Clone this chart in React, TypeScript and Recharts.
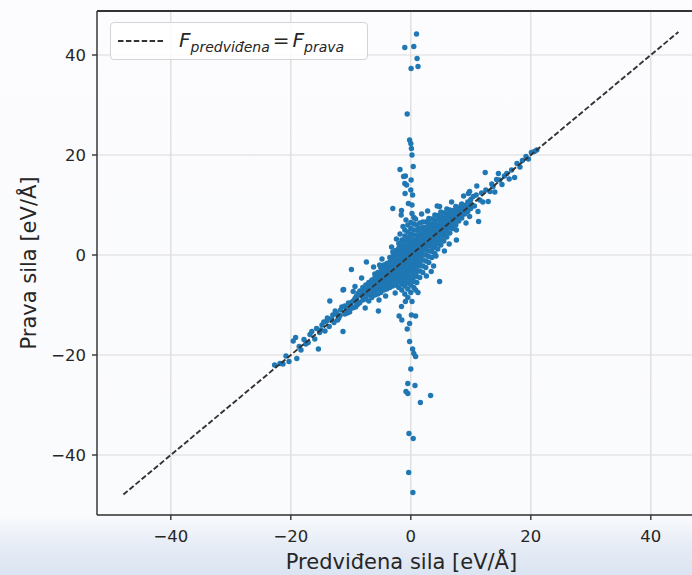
import React from "react";
import {
  ScatterChart,
  Scatter,
  XAxis,
  YAxis,
  CartesianGrid,
  ReferenceLine,
} from "recharts";

// dense core near the origin, [predicted, true]
const corePoints: [number, number][] = [
  [-9, -10], [-9, -9], [-9, -8.5],
  [-8.5, -9.5], [-8.5, -8], [-8.5, -7.2],
  [-8, -9], [-8, -8.3], [-8, -7.5], [-8, -6.5],
  [-7.5, -8.8], [-7.5, -7.8], [-7.5, -7], [-7.5, -6],
  [-7, -9.2], [-7, -8], [-7, -7.2], [-7, -6.4], [-7, -5.5],
  [-6.5, -8.5], [-6.5, -7.6], [-6.5, -6.8], [-6.5, -6], [-6.5, -5],
  [-6, -8], [-6, -7.1], [-6, -6.3], [-6, -5.5], [-6, -4.6], [-6, -3.8],
  [-5.5, -7.8], [-5.5, -6.8], [-5.5, -6], [-5.5, -5.2], [-5.5, -4.4], [-5.5, -3.5],
  [-5, -7.5], [-5, -6.6], [-5, -5.7], [-5, -5], [-5, -4.2], [-5, -3.3], [-5, -2.5],
  [-4.5, -7], [-4.5, -6.1], [-4.5, -5.3], [-4.5, -4.5], [-4.5, -3.7], [-4.5, -2.9], [-4.5, -2],
  [-4, -6.8], [-4, -5.9], [-4, -5], [-4, -4.2], [-4, -3.4], [-4, -2.6], [-4, -1.7],
  [-3.5, -6.5], [-3.5, -5.6], [-3.5, -4.7], [-3.5, -3.9], [-3.5, -3.1], [-3.5, -2.3], [-3.5, -1.4], [-3.5, -0.5],
  [-3, -6.2], [-3, -5.2], [-3, -4.4], [-3, -3.6], [-3, -2.8], [-3, -2], [-3, -1.2], [-3, -0.3], [-3, 0.6],
  [-2.5, -6], [-2.5, -5], [-2.5, -4.1], [-2.5, -3.3], [-2.5, -2.5], [-2.5, -1.7], [-2.5, -0.9], [-2.5, 0], [-2.5, 0.9],
  [-2, -6.5], [-2, -5.4], [-2, -4.5], [-2, -3.6], [-2, -2.8], [-2, -2], [-2, -1.2], [-2, -0.4], [-2, 0.5], [-2, 1.4], [-2, 2.3],
  [-1.5, -7], [-1.5, -5.8], [-1.5, -4.9], [-1.5, -4], [-1.5, -3.1], [-1.5, -2.3], [-1.5, -1.5], [-1.5, -0.7], [-1.5, 0.2], [-1.5, 1.1], [-1.5, 2], [-1.5, 3],
  [-1, -7.8], [-1, -6.2], [-1, -5.2], [-1, -4.3], [-1, -3.4], [-1, -2.5], [-1, -1.7], [-1, -0.9], [-1, 0], [-1, 0.9], [-1, 1.8], [-1, 2.8], [-1, 3.8], [-1, 5],
  [-0.5, -8.5], [-0.5, -6.8], [-0.5, -5.6], [-0.5, -4.6], [-0.5, -3.7], [-0.5, -2.8], [-0.5, -2], [-0.5, -1.1], [-0.5, -0.3], [-0.5, 0.6], [-0.5, 1.5], [-0.5, 2.5], [-0.5, 3.5], [-0.5, 4.6], [-0.5, 6],
  [0, -7.5], [0, -6], [0, -5], [0, -4], [0, -3.1], [0, -2.2], [0, -1.3], [0, -0.4], [0, 0.5], [0, 1.4], [0, 2.3], [0, 3.2], [0, 4.2], [0, 5.3], [0, 6.5],
  [0.5, -6.5], [0.5, -5.3], [0.5, -4.3], [0.5, -3.3], [0.5, -2.4], [0.5, -1.5], [0.5, -0.6], [0.5, 0.3], [0.5, 1.2], [0.5, 2.1], [0.5, 3], [0.5, 4], [0.5, 5], [0.5, 6.2], [0.5, 7.5],
  [1, -5.5], [1, -4.3], [1, -3.3], [1, -2.3], [1, -1.4], [1, -0.5], [1, 0.4], [1, 1.3], [1, 2.2], [1, 3.1], [1, 4], [1, 5], [1, 6],
  [1.5, -4.5], [1.5, -3.2], [1.5, -2.1], [1.5, -1.1], [1.5, -0.2], [1.5, 0.7], [1.5, 1.6], [1.5, 2.5], [1.5, 3.4], [1.5, 4.3], [1.5, 5.3], [1.5, 6.4],
  [2, -3.5], [2, -2.2], [2, -1], [2, 0], [2, 0.9], [2, 1.8], [2, 2.7], [2, 3.6], [2, 4.5], [2, 5.5], [2, 6.6],
  [2.5, -2.5], [2.5, -1.2], [2.5, 0], [2.5, 1], [2.5, 1.9], [2.5, 2.8], [2.5, 3.7], [2.5, 4.6], [2.5, 5.5], [2.5, 6.6],
  [3, -1.5], [3, -0.3], [3, 0.8], [3, 1.8], [3, 2.7], [3, 3.6], [3, 4.5], [3, 5.4], [3, 6.3], [3, 7.3],
  [3.5, -0.5], [3.5, 0.7], [3.5, 1.7], [3.5, 2.6], [3.5, 3.5], [3.5, 4.4], [3.5, 5.3], [3.5, 6.2], [3.5, 7.2],
  [4, 0.3], [4, 1.5], [4, 2.5], [4, 3.4], [4, 4.3], [4, 5.2], [4, 6.1], [4, 7], [4, 8],
  [4.5, 1.2], [4.5, 2.3], [4.5, 3.3], [4.5, 4.2], [4.5, 5.1], [4.5, 6], [4.5, 7], [4.5, 7.9],
  [5, 2], [5, 3], [5, 4], [5, 4.9], [5, 5.8], [5, 6.7], [5, 7.6], [5, 8.6],
  [5.5, 2.8], [5.5, 3.8], [5.5, 4.7], [5.5, 5.6], [5.5, 6.5], [5.5, 7.4], [5.5, 8.4],
  [6, 3.6], [6, 4.6], [6, 5.5], [6, 6.4], [6, 7.3], [6, 8.2], [6, 9.2],
  [6.5, 4.4], [6.5, 5.4], [6.5, 6.3], [6.5, 7.2], [6.5, 8.1], [6.5, 9],
  [7, 5.3], [7, 6.3], [7, 7.1], [7, 8], [7, 8.9],
  [7.5, 6], [7.5, 7], [7.5, 7.8], [7.5, 8.7], [7.5, 9.7],
  [8, 6.8], [8, 7.7], [8, 8.5], [8, 9.4],
  [8.5, 7.4], [8.5, 8.3], [8.5, 9.2], [8.5, 10.2],
  [9, 8.2], [9, 9], [9, 9.9],
  [9.5, 8.7], [9.5, 9.6], [9.5, 10.6],
  [10, 9.3], [10, 10.2], [10, 11.1],
];

// loose points around the edge of the core
const coreEdge: [number, number][] = [
  [-6.2, -2.4], [-4.8, -0.8], [-3.2, 1.6], [-2.4, 3.2], [2.6, -4.2],
  [3.8, -2.2], [5.6, 0.8], [6.4, 2.2], [-8.2, -4.6], [8.8, 11.8],
  [-1.8, 4.2], [1.8, 8.2], [2.8, 8.8], [-7.6, -10.6], [-4.2, -8.2],
  [-2.6, -7.6], [6.8, 10.6], [9.2, 6.4],
];

// sparser tail along the diagonal, lower left
const lowerBand: [number, number][] = [
  [-22.7, -22], [-21.8, -21.7], [-21.3, -21.8], [-20.8, -20.2], [-20.3, -21.3],
  [-19.6, -17.2], [-19.2, -16.5], [-19, -20.7], [-18.6, -18.3], [-18.3, -19],
  [-17.8, -16.9], [-17.5, -17.8], [-17.1, -17.5], [-16.8, -15.9], [-16.5, -15.3],
  [-16, -16.8], [-15.7, -14.7], [-15.4, -18.8], [-15.2, -15.5], [-15, -15],
  [-14.8, -14], [-14.5, -13.4], [-14.3, -15.2], [-14, -13.2], [-13.9, -12.6],
  [-13.6, -14.3], [-13.5, -9.2], [-13.2, -12.8], [-13, -12], [-12.8, -13.5],
  [-12.6, -11.2], [-12.4, -11.7], [-12.2, -13], [-12, -12.6], [-11.8, -12.1],
  [-11.7, -11], [-11.5, -10.4], [-11.3, -7], [-11.3, -15.3], [-11, -11.8],
  [-11, -10.2], [-10.7, -10.7], [-10.6, -11.6], [-10.4, -9.6], [-10.4, -10.9],
  [-10.2, -11.4], [-10, -10], [-9.9, -2.9], [-9.8, -9.4], [-9.7, -10.6],
  [-9.6, -7.3], [-9.5, -9.1], [-9.3, -8.7], [-9.3, -6.3], [-9.2, -10.4],
  [-9.1, -8.3], [-8.9, -9.9], [-8.8, -7.7], [-8.6, -9.6], [-7.4, -1.4],
  [-6.8, -6.3], [-5.4, -11.2], [-5.3, -9], [-5.2, -2], [-11.2, -6.9],
];

// sparser tail along the diagonal, upper right
const upperBand: [number, number][] = [
  [4.4, 9.8], [4.8, 9.7], [7.1, 6], [7.6, 3], [7.6, 5], [8.4, 10],
  [9.6, 12.3], [9.8, 12.7], [9.8, 7.7], [10.4, 11.7], [10.6, 9.8],
  [10.9, 12], [11, 13.8], [11.2, 8.7], [11.3, 6.7], [11.5, 11],
  [11.8, 12.4], [12, 10.6], [12.4, 16.5], [12.5, 13], [12.9, 10.7],
  [13.2, 12.7], [13.5, 14.2], [13.7, 13.7], [14, 12.6], [14.3, 15.1],
  [14.6, 16.3], [14.8, 15], [15.2, 14.1], [15.6, 15.8], [16, 16.3],
  [16.4, 15.2], [16.8, 17], [17.3, 15.5], [17.7, 18.3], [18.2, 17.6],
  [18.6, 18.9], [19.2, 19.7], [19.6, 19.2], [20.1, 20.5], [20.6, 20.7],
  [21, 21], [3.4, -3.3], [4.2, -0.2], [4.8, -5.3], [1.5, -1.7],
];

// outliers where predicted is near zero
const spikeUp: [number, number][] = [
  [0.95, 44.2], [-1, 41.5], [0.5, 41.7], [1.05, 39.3], [0.05, 37.3],
  [1.2, 37.7], [-0.6, 28.2], [-0.2, 23], [0, 22.3], [0.1, 21.3],
  [0.2, 20], [0.4, 17.7], [-1.8, 17.1], [-0.9, 15.8], [-1.2, 15.7],
  [0.05, 15], [-1, 14.3], [-0.7, 14], [0, 13], [-0.95, 12.3],
  [0.3, 12], [-0.4, 10.3], [0.2, 10], [-3, 9.3], [-1.55, 8.9],
  [0.2, 8.3], [-1.6, 8], [-0.8, 7], [-1.3, 5.7], [0.8, 7.2],
];

const spikeDown: [number, number][] = [
  [-0.2, -17.3], [0.3, -18.8], [0.5, -19.7], [0.8, -20.3], [0, -22.8],
  [-0.5, -25.7], [0.7, -26.1], [-0.8, -27.3], [-0.5, -27.7], [3.3, -28.1],
  [1.6, -29.5], [-0.3, -35.7], [0.4, -36.7], [-0.35, -43.5], [0.35, -47.5],
  [-1.55, -10.3], [-1.95, -12.2], [-1.5, -13], [0.1, -12], [0.8, -12.2],
  [-0.2, -13.7], [-0.6, -14.8], [-0.9, -9.3], [0.2, -9.3], [0.8, -7],
  [1.2, -7.5],
];

// ends of the y = x reference line
const lineEnds = [-47.9, 44.6];

const xTicks = [-40, -20, 0, 20, 40];
const yTicks = [-40, -20, 0, 20, 40];
const xDomain: [number, number] = [-52.3, 49.2];
const yDomain: [number, number] = [-52, 48.8];

const points = [
  ...corePoints,
  ...coreEdge,
  ...lowerBand,
  ...upperBand,
  ...spikeUp,
  ...spikeDown,
].map(([x, y]) => ({ x, y }));
const diagonal = lineEnds.map((v) => ({ x: v, y: v }));

const FONT = "'DejaVu Sans', sans-serif";
const DASH = "5.5 2.4";
const DOT = "#1f77b4";

const noDot = () => <g />;
const smallDot = (p: any) => <circle cx={p.cx} cy={p.cy} r={2.7} fill={DOT} />;
const fmtTick = (v: number) => (v < 0 ? `\u2212${-v}` : `${v}`);

function XLabel(props: any) {
  const vb = props.viewBox || { x: 97, y: 515, width: 609, height: 60 };
  return (
    <text
      x={vb.x + vb.width / 2}
      y={vb.y + 54}
      textAnchor="middle"
      fontFamily={FONT}
      fontSize={21}
      fill="#262626"
    >
      Predviđena sila [eV/Å]
    </text>
  );
}

function YLabel(props: any) {
  const vb = props.viewBox || { x: 0, y: 11, width: 97, height: 504 };
  const cx = 29;
  const cy = vb.y + vb.height / 2;
  return (
    <text
      x={cx}
      y={cy}
      transform={`rotate(-90 ${cx} ${cy})`}
      textAnchor="middle"
      dominantBaseline="central"
      fontFamily={FONT}
      fontSize={21}
      fill="#262626"
    >
      Prava sila [eV/Å]
    </text>
  );
}

function LegendBox() {
  return (
    <div
      style={{
        position: "absolute",
        left: 110,
        top: 22,
        width: 258,
        height: 38,
        border: "1px solid #d4d4d4",
        borderRadius: 4,
        background: "rgba(255,255,255,0.85)",
        fontFamily: FONT,
        color: "#262626",
        display: "flex",
        alignItems: "center",
        boxSizing: "border-box",
      }}
    >
      <svg width={60} height={20} style={{ marginLeft: 6, flex: "none" }}>
        <line x1={1} y1={10} x2={46} y2={10} stroke="#333" strokeWidth={1.9} strokeDasharray={DASH} />
      </svg>
      <span style={{ fontStyle: "italic", fontSize: 20, whiteSpace: "nowrap", marginLeft: 2 }}>
        F<sub style={{ fontSize: 14, verticalAlign: "-5px" }}>predviđena</sub>
        <span style={{ fontStyle: "normal", margin: "0 3px" }}>=</span>
        F<sub style={{ fontSize: 14, verticalAlign: "-5px" }}>prava</sub>
      </span>
    </div>
  );
}

export default function App() {
  return (
    <div
      style={{
        position: "relative",
        width: 692,
        height: 575,
        overflow: "hidden",
        background:
          "linear-gradient(to bottom, #fcfcfe 0px, #fafbfd 515px, #e9eef7 540px, #dbe4f2 575px)",
      }}
    >
      <style>{"body{margin:0}"}</style>
      <ScatterChart
        width={712}
        height={575}
        margin={{ top: 11, right: 6, bottom: 0, left: 0 }}
        style={{ fontFamily: FONT }}
      >
        <CartesianGrid stroke="#dadada" strokeWidth={1.2} />
        <XAxis
          type="number"
          dataKey="x"
          domain={xDomain}
          ticks={xTicks}
          height={60}
          allowDataOverflow
          tickFormatter={fmtTick}
          tick={{ fontSize: 16.5, fill: "#262626", fontFamily: FONT }}
          tickSize={5}
          tickMargin={10}
          stroke="#333"
          strokeWidth={1.4}
          label={<XLabel />}
        />
        <YAxis
          type="number"
          dataKey="y"
          domain={yDomain}
          ticks={yTicks}
          width={97}
          allowDataOverflow
          tickFormatter={fmtTick}
          tick={{ fontSize: 16.5, fill: "#262626", fontFamily: FONT }}
          tickSize={5}
          tickMargin={6}
          stroke="#333"
          strokeWidth={1.4}
          label={<YLabel />}
        />
        <ReferenceLine y={yDomain[1]} stroke="#333" strokeWidth={2.2} />
        <Scatter data={points} fill={DOT} shape={smallDot} isAnimationActive={false} />
        <Scatter
          data={diagonal}
          line={{ stroke: "#333", strokeWidth: 1.9, strokeDasharray: DASH }}
          shape={noDot}
          legendType="none"
          isAnimationActive={false}
        />
      </ScatterChart>
      <LegendBox />
    </div>
  );
}
